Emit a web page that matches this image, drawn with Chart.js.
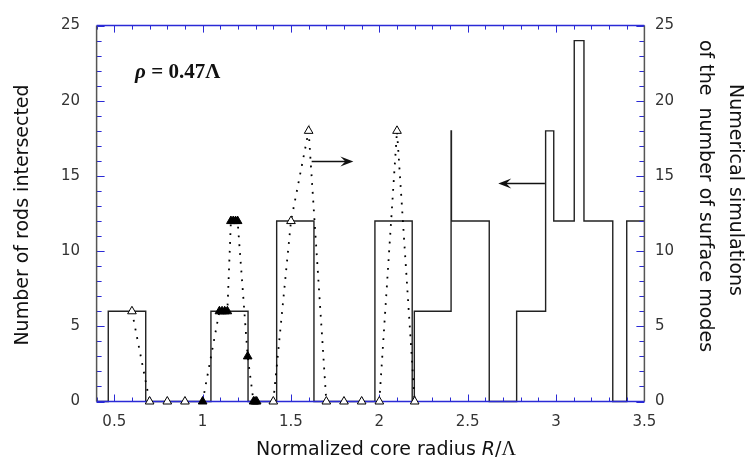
<!DOCTYPE html>
<html><head><meta charset="utf-8">
<script src="https://cdn.jsdelivr.net/npm/chart.js@4/dist/chart.umd.min.js"></script>
<style>html,body{margin:0;padding:0;background:#fff}#wrap{width:747px;height:462px}</style>
</head><body><div id="wrap"><canvas id="c" width="747" height="462"></canvas></div>
<script>
// ---- data ----
const xTickLabels = [0.5, 1, 1.5, 2, 2.5, 3, 3.5];
const yTickLabels = [0, 5, 10, 15, 20, 25];
// number of rods intersected: level starting at each radius (step function)
const rodEdges  = [0.40, 0.466, 0.678, 1.047, 1.257, 1.419, 1.630, 1.975, 2.186, 2.198, 2.406, 2.408, 2.622, 2.777, 2.941, 2.987, 3.103, 3.158, 3.321, 3.400, 3.500];
const rodCounts = [0,    6,     0,     6,     0,     12,    0,     12,    0,     6,     18,    12,    0,     6,     18,    12,    24,    12,    0,     12,    12];
// numerical simulations of the number of surface modes
const openSimRadius   = [0.6, 0.7, 0.8, 0.9, 1.4, 1.5, 1.6, 1.7, 1.8, 1.9, 2.0, 2.1, 2.2];
const openSimModes    = [6,   0,   0,   0,   0,   12,  18,  0,   0,   0,   0,   18,  0];
const filledSimRadius = [1.0, 1.095, 1.11, 1.125, 1.14, 1.16, 1.173, 1.186, 1.198, 1.255, 1.288, 1.297, 1.306];
const filledSimModes  = [0,   6,     6,    6,     6,    12,   12,    12,    12,    3,     0,     0,     0];
// arrows: [fromX, toX, y]
const arrowRightSim = [1.617, 1.853, 16];
const arrowLeftRods = [2.937, 2.673, 14.5];
const annotationPos = [0.618, 21.9];

const xTitle = ['Normalized core radius ', 'R', '/', 'Λ'];
const yTitle = 'Number of rods intersected';
const y1Title = ['Numerical simulations', 'of the  number of surface modes'];

// ---- build datasets ----
const stepData = rodEdges.map((x, i) => ({x, y: rodCounts[i]}));
const simData = openSimRadius.map((x, i) => ({x, y: openSimModes[i], filled: false}))
  .concat(filledSimRadius.map((x, i) => ({x, y: filledSimModes[i], filled: true})))
  .sort((a, b) => a.x - b.x);

const BLUE = '#2a2ad6';
function seg(ctx, x1, y1, x2, y2){ ctx.beginPath(); ctx.moveTo(x1, y1); ctx.lineTo(x2, y2); ctx.stroke(); }

function drawFrame(chart){
  const {ctx, chartArea: a, scales: {x, y}} = chart;
  ctx.save();
  ctx.lineWidth = 1;
  ctx.strokeStyle = BLUE;
  for (let i = 0; i <= 31; i++) {
    const v = 0.4 + i * 0.1;
    const px = Math.round(x.getPixelForValue(v)) + 0.5;
    const major = Math.abs(v * 2 - Math.round(v * 2)) < 1e-6;
    const L = major ? 7 : 4;
    seg(ctx, px, a.bottom, px, a.bottom - L);
    seg(ctx, px, a.top, px, a.top + L);
  }
  for (let v = 0; v <= 25; v++) {
    const py = Math.round(y.getPixelForValue(v)) + 0.5;
    const L = v % 5 === 0 ? 8 : 5;
    seg(ctx, a.left, py, a.left + L, py);
    seg(ctx, a.right, py, a.right - L, py);
  }
  ctx.lineWidth = 1.5;
  ctx.strokeStyle = '#555';
  seg(ctx, a.left, a.top, a.left, a.bottom);
  seg(ctx, a.right, a.top, a.right, a.bottom);
  ctx.strokeStyle = BLUE;
  seg(ctx, a.left, a.top, a.right, a.top);
  seg(ctx, a.left, a.bottom, a.right, a.bottom);
  ctx.restore();
}

function drawArrow(chart, spec){
  const {ctx, scales: {x, y}} = chart;
  const x1 = x.getPixelForValue(spec[0]), x2 = x.getPixelForValue(spec[1]);
  const py = Math.round(y.getPixelForValue(spec[2])) + 0.5;
  const dir = Math.sign(x2 - x1);
  ctx.save();
  ctx.strokeStyle = '#111'; ctx.fillStyle = '#111'; ctx.lineWidth = 1.3;
  seg(ctx, x1, py, x2 - dir * 6, py);
  ctx.beginPath();
  ctx.moveTo(x2, py);
  ctx.lineTo(x2 - dir * 13, py - 5);
  ctx.lineTo(x2 - dir * 8, py);
  ctx.lineTo(x2 - dir * 13, py + 5);
  ctx.closePath();
  ctx.fill();
  ctx.restore();
}

const decor = {
  id: 'decor',
  afterDatasetDraw(chart, args) {
    if (args.index === 1) drawFrame(chart);
  },
  afterDatasetsDraw(chart) {
    const {ctx, scales: {x, y}} = chart;
    drawArrow(chart, arrowRightSim);
    drawArrow(chart, arrowLeftRods);
    // annotation
    ctx.save();
    ctx.fillStyle = '#111';
    ctx.textBaseline = 'middle';
    let tx = x.getPixelForValue(annotationPos[0]);
    const ty = y.getPixelForValue(annotationPos[1]);
    ctx.font = 'italic bold 21px "Liberation Serif"';
    ctx.fillText('ρ', tx, ty);
    tx += ctx.measureText('ρ').width;
    ctx.font = 'bold 21px "Liberation Serif"';
    ctx.fillText(' = 0.47Λ', tx, ty);
    ctx.restore();
  },
  afterDraw(chart) {
    const {ctx} = chart;
    ctx.save();
    ctx.fillStyle = '#111';
    ctx.textBaseline = 'middle';
    ctx.textAlign = 'center';
    // left title
    ctx.font = '19px "DejaVu Sans"';
    ctx.save(); ctx.translate(23, 215); ctx.rotate(-Math.PI / 2); ctx.fillText(yTitle, 0, 0); ctx.restore();
    // right title
    ctx.save(); ctx.translate(735, 190); ctx.rotate(Math.PI / 2); ctx.fillText(y1Title[0], 0, 0); ctx.restore();
    ctx.save(); ctx.translate(705, 196); ctx.rotate(Math.PI / 2); ctx.fillText(y1Title[1], 0, 0); ctx.restore();
    // x title with italic R
    const fonts = ['19px "DejaVu Sans"', 'italic 19px "DejaVu Sans"', '19px "DejaVu Sans"', '20px "Liberation Serif"'];
    let w = 0;
    const ws = xTitle.map((t, i) => { ctx.font = fonts[i]; const m = ctx.measureText(t).width; w += m; return m; });
    let cx = 386 - w / 2;
    ctx.textAlign = 'left';
    ctx.textBaseline = 'alphabetic';
    xTitle.forEach((t, i) => { ctx.font = fonts[i]; ctx.fillText(t, cx, 455); cx += ws[i]; });
    ctx.restore();
  }
};

new Chart(document.getElementById('c'), {
  type: 'line',
  data: {
    datasets: [
      {
        label: 'simulations',
        data: simData,
        yAxisID: 'y1',
        borderColor: '#000',
        borderWidth: 1.8,
        borderDash: [1.8, 7],
        tension: 0,
        fill: false,
        clip: false,
        pointStyle: 'triangle',
        pointRadius: 5,
        pointBorderWidth: 1,
        pointBorderColor: '#000',
        pointBackgroundColor: c => (c.raw && c.raw.filled) ? '#000' : '#fff',
        segment: {
          borderColor: c => (c.p0.parsed.y === 0 && c.p1.parsed.y === 0) ? 'rgba(0,0,0,0)' : '#000'
        }
      },
      {
        label: 'rods',
        data: stepData,
        yAxisID: 'y',
        stepped: true,
        borderColor: '#222',
        borderWidth: 1.4,
        pointRadius: 0,
        fill: false,
        clip: false
      }
    ]
  },
  options: {
    responsive: false,
    devicePixelRatio: 1,
    animation: false,
    layout: {padding: {top: 14, left: 0, right: 0, bottom: 0}},
    plugins: {legend: {display: false}, tooltip: {enabled: false}},
    scales: {
      x: {
        type: 'linear', min: 0.4, max: 3.5,
        grid: {display: false, drawTicks: false},
        border: {display: false},
        afterBuildTicks: s => { s.ticks = xTickLabels.map(v => ({value: v})); },
        afterFit: s => { s.height = 60.5; },
        ticks: {padding: 12, color: '#333', font: {family: 'DejaVu Sans', size: 15}, maxRotation: 0, autoSkip: false,
                callback: v => String(v)}
      },
      y: {
        type: 'linear', position: 'left', min: 0, max: 25,
        grid: {display: false, drawTicks: false},
        border: {display: false},
        afterBuildTicks: s => { s.ticks = yTickLabels.map(v => ({value: v})); },
        afterFit: s => { s.width = 96.6; },
        ticks: {padding: 16.6, color: '#333', font: {family: 'DejaVu Sans', size: 15}}
      },
      y1: {
        type: 'linear', position: 'right', min: 0, max: 25,
        grid: {display: false, drawTicks: false},
        border: {display: false},
        afterBuildTicks: s => { s.ticks = yTickLabels.map(v => ({value: v})); },
        afterFit: s => { s.width = 102.6; },
        ticks: {padding: 10.6, color: '#333', font: {family: 'DejaVu Sans', size: 15}}
      }
    }
  },
  plugins: [decor]
});
</script>
</body></html>
